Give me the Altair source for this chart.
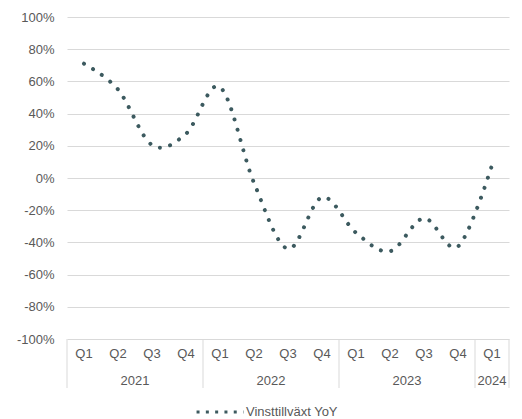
import altair as alt
import pandas as pd

# ---- data ----
quarters = ["Q1", "Q2", "Q3", "Q4", "Q1", "Q2", "Q3", "Q4", "Q1", "Q2", "Q3", "Q4", "Q1"]
years = ["2021"] * 4 + ["2022"] * 4 + ["2023"] * 4 + ["2024"]
growth = [0.71, 0.55, 0.205, 0.275, 0.565, -0.03, -0.44, -0.12, -0.34, -0.455, -0.25, -0.425, 0.08]
series_name = "Vinsttillväxt YoY"
y_ticks = [-1.0, -0.8, -0.6, -0.4, -0.2, 0.0, 0.2, 0.4, 0.6, 0.8, 1.0]

LINE_COLOR = "#3C5A5F"
TEXT_COLOR = "#595959"
GRID_COLOR = "#D9D9D9"
FONT = "Liberation Sans"
FS = 13

W, H = 442, 322

df = pd.DataFrame({
    "idx": list(range(len(quarters))),
    "quarter": quarters,
    "year": years,
    "value": growth,
    "series": [series_name] * len(quarters),
})

yr_names, yr_centers = [], []
div_pos = []
for y in dict.fromkeys(years):
    ids = [i for i, v in enumerate(years) if v == y]
    yr_names.append(y)
    yr_centers.append((min(ids) + max(ids)) / 2)
    div_pos.append(min(ids) - 0.5)
div_pos.append(len(years) - 0.5)
yr = pd.DataFrame({"year": yr_names, "center": yr_centers})
div_df = pd.DataFrame({"pos": div_pos})

xscale = alt.Scale(domain=[-0.5, len(quarters) - 0.5], nice=False, zero=False)
yscale = alt.Scale(domain=[-1, 1], nice=False)

line = alt.Chart(df).mark_line(
    interpolate="cardinal",
    strokeWidth=4,
    strokeCap="round",
    strokeDash=[0.01, 10.6],
).encode(
    x=alt.X("idx:Q", scale=xscale, axis=None),
    y=alt.Y("value:Q", scale=yscale, axis=alt.Axis(
        values=y_ticks,
        labelExpr="round(datum.value*100) + '%'",
        grid=True, gridColor=GRID_COLOR, gridWidth=1,
        domain=False, ticks=False, labelPadding=13,
        labelFontSize=FS, labelColor=TEXT_COLOR, labelFont=FONT,
        title=None,
    )),
    color=alt.Color("series:N", scale=alt.Scale(range=[LINE_COLOR]), legend=alt.Legend(
        title=None, orient="none", legendX=128, legendY=370,
        symbolType="stroke", symbolSize=2200, symbolStrokeWidth=3,
        symbolDash=[3, 6.3], labelFontSize=FS, labelColor=TEXT_COLOR,
        labelFont=FONT, labelOffset=1,
    )),
)

q_text = alt.Chart(df).mark_text(
    fontSize=FS, font=FONT, color=TEXT_COLOR, baseline="middle", align="center"
).encode(
    x=alt.X("idx:Q", scale=xscale, axis=None),
    y=alt.value(H + 15),
    text="quarter:N",
)

y_text = alt.Chart(yr).mark_text(
    fontSize=FS, font=FONT, color=TEXT_COLOR, baseline="middle", align="center"
).encode(
    x=alt.X("center:Q", scale=xscale, axis=None),
    y=alt.value(H + 42),
    text="year:N",
)

dividers = alt.Chart(div_df).mark_rule(color=GRID_COLOR, strokeWidth=1).encode(
    x=alt.X("pos:Q", scale=xscale, axis=None),
    y=alt.value(H),
    y2=alt.value(H + 49),
)

chart = alt.layer(dividers, line, q_text, y_text).properties(
    width=W, height=H,
    autosize=alt.AutoSizeParams(type="none"),
    padding={"left": 67, "top": 17, "right": 13, "bottom": 80},
).configure_view(strokeWidth=0)

chart.save("out.html", embed_options={"renderer": "svg", "actions": False})
